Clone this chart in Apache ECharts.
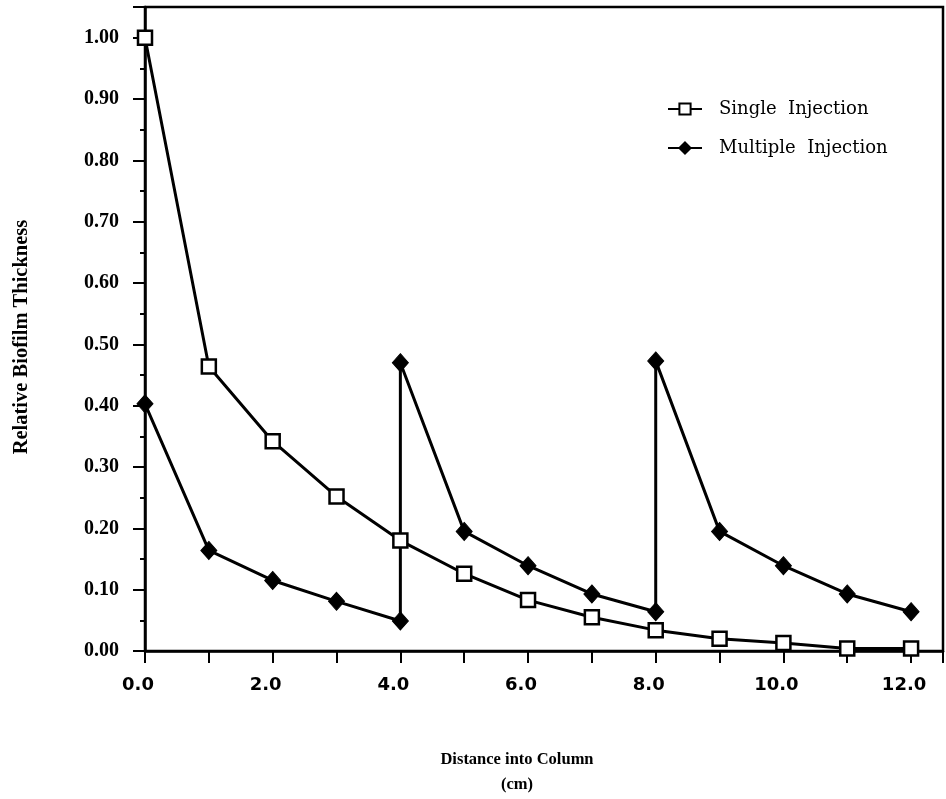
<!DOCTYPE html>
<html>
<head>
<meta charset="utf-8">
<script src="https://cdn.jsdelivr.net/npm/echarts@6/dist/echarts.min.js"></script>
<style>
html,body{margin:0;padding:0;background:#fff;}
#chart{width:946px;height:799px;}
</style>
</head>
<body>
<div id="chart"></div>
<script>
// Data
const singleX = [0, 1, 2, 3, 4, 5, 6, 7, 8, 9, 10, 11, 12];
const singleY = [1.00, 0.464, 0.342, 0.252, 0.180, 0.126, 0.083, 0.055, 0.034, 0.020, 0.013, 0.004, 0.004];
const multipleX = [0, 1, 2, 3, 4, 4, 5, 6, 7, 8, 8, 9, 10, 11, 12];
const multipleY = [0.403, 0.164, 0.115, 0.081, 0.049, 0.470, 0.195, 0.139, 0.093, 0.064, 0.473, 0.195, 0.139, 0.093, 0.064];
const seriesNames = ['Single Injection', 'Multiple Injection'];
const xTitle = 'Distance into Column';
const xUnit = '(cm)';
const yTitle = 'Relative Biofilm Thickness';

const singleData = singleX.map((x, i) => [x, singleY[i]]);
const multipleData = multipleX.map((x, i) => [x, multipleY[i]]);

const chart = echarts.init(document.getElementById('chart'));
const option = {
  backgroundColor: '#fff',
  animation: false,
  grid: {
    left: 145, right: 3, top: 7, bottom: 148,
    show: true, borderColor: '#000', borderWidth: 2.5, backgroundColor: 'transparent'
  },
  legend: {
    left: 662, top: 95, orient: 'vertical', itemGap: 21,
    itemWidth: 34, itemHeight: 14,
    data: seriesNames,
    formatter: n => n.replace(' ', '  '),
    textStyle: { fontFamily: 'DejaVu Serif', fontSize: 18, lineHeight: 18, color: '#000', padding: [0, 0, 0, 12] }
  },
  xAxis: {
    type: 'value', min: 0, max: 12.5, interval: 1,
    axisLine: { show: true, lineStyle: { color: '#000', width: 2.5 } },
    axisTick: { show: true, length: 12, lineStyle: { color: '#000', width: 2 } },
    splitLine: { show: false },
    axisLabel: {
      margin: 25, color: '#000', fontFamily: 'DejaVu Sans', fontWeight: 'bold', fontSize: 18,
      padding: [0, 14, 0, 0],
      formatter: v => (Math.abs(v % 2) < 1e-9 && v <= 12) ? v.toFixed(1) : ''
    }
  },
  yAxis: {
    type: 'value', min: 0, max: 1.05, interval: 0.1,
    axisLine: { show: true, lineStyle: { color: '#000', width: 2.5 } },
    axisTick: { show: true, length: 12, lineStyle: { color: '#000', width: 2 } },
    minorTick: { show: true, splitNumber: 2, length: 5, lineStyle: { color: '#000', width: 2 } },
    splitLine: { show: false },
    axisLabel: {
      margin: 26, color: '#000', fontFamily: 'Liberation Serif', fontWeight: 'bold', fontSize: 20,
      formatter: v => (Math.abs(v * 10 - Math.round(v * 10)) < 1e-6 && v <= 1.0001) ? v.toFixed(2) : ''
    }
  },
  graphic: [
    {
      type: 'text', x: 517, y: 760,
      style: { text: xTitle, fontFamily: 'Liberation Serif', fontWeight: 'bold', fontSize: 16.5, fill: '#000', align: 'center', verticalAlign: 'middle' }
    },
    {
      type: 'text', x: 517, y: 785,
      style: { text: xUnit, fontFamily: 'Liberation Serif', fontWeight: 'bold', fontSize: 16.5, fill: '#000', align: 'center', verticalAlign: 'middle' }
    },
    {
      type: 'text', x: 22, y: 337, rotation: Math.PI / 2,
      style: { text: yTitle, fontFamily: 'Liberation Serif', fontWeight: 'bold', fontSize: 20.5, fill: '#000', align: 'center', verticalAlign: 'middle' }
    }
  ],
  series: [
    {
      name: seriesNames[0], type: 'line', data: singleData,
      symbol: 'rect', symbolSize: 14,
      lineStyle: { color: '#000', width: 3 },
      itemStyle: { color: '#fff', borderColor: '#000', borderWidth: 2.5 },
      z: 3
    },
    {
      name: seriesNames[1], type: 'line', data: multipleData,
      symbol: 'diamond', symbolSize: [16, 18],
      lineStyle: { color: '#000', width: 3 },
      itemStyle: { color: '#000', borderColor: '#000', borderWidth: 1 },
      z: 2
    }
  ]
};
chart.setOption(option);
</script>
</body>
</html>
